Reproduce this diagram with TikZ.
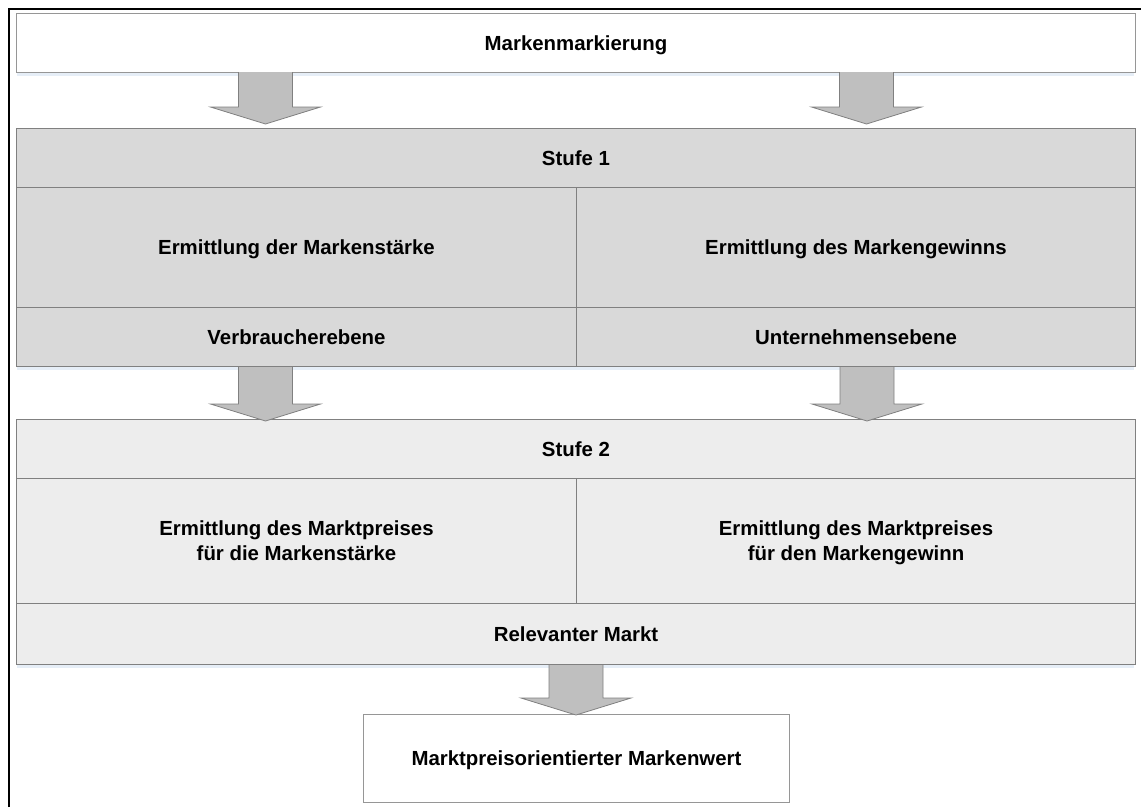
\documentclass[tikz,border=0pt]{standalone}
\usepackage{fontspec}
\setmainfont{Liberation Sans}

\definecolor{edgegray}{RGB}{128,128,128}
\definecolor{lightedge}{RGB}{150,150,150}
\definecolor{levelone}{RGB}{217,217,217}
\definecolor{leveltwo}{RGB}{237,237,237}
\definecolor{arrowfill}{RGB}{191,191,191}
\definecolor{haze}{RGB}{214,226,242}

% line strut: keeps the cap height of every text line centred in its cell
\newcommand\cellline{\rule[-5.2pt]{0pt}{25pt}}

\tikzset{
  cell/.style={draw=edgegray, line width=1pt, rectangle, anchor=north west,
    inner sep=0pt, align=center,
    font=\fontsize{20.4}{25}\selectfont\bfseries},
  whitecell/.style={cell, draw=lightedge, fill=white},
  onecell/.style={cell, fill=levelone},
  twocell/.style={cell, fill=leveltwo},
  hazeline/.style={haze, line width=3pt, opacity=0.6},
  blockarrow/.style={draw=edgegray, fill=arrowfill, line width=0.8pt, line join=miter},
  % down-pointing block arrow; the argument is the length of its shaft
  pics/downarrow/.style={code={
    \draw[blockarrow] (-27,0) -- (-27,#1) -- (-55,#1) -- (0,#1+17) -- (55,#1)
      -- (27,#1) -- (27,0);
  }}
}

\begin{document}
\begin{tikzpicture}[x=1pt, y=-1pt]
\useasboundingbox (0,0) rectangle (1141,807);

% outer frame
\draw[black, line width=2pt] (9,807) -- (9,9) -- (1141,9);

% soft haze under the box edges
\draw[hazeline] (17,74) -- (1134,74);
\draw[hazeline] (17,368) -- (1134,368);
\draw[hazeline] (17,666) -- (1134,666);

% top box
\node[whitecell, minimum width=1119pt, minimum height=59pt] (mark) at (16,13) {\cellline Markenmarkierung};

% level 1
\node[onecell, minimum width=1119pt, minimum height=59pt] (s1) at (16,128) {\cellline Stufe 1};
\node[onecell, minimum width=560pt, minimum height=120pt] (s1l) at (16,187) {\cellline Ermittlung der Markenstärke};
\node[onecell, minimum width=559pt, minimum height=120pt] (s1r) at (576,187) {\cellline Ermittlung des Markengewinns};
\node[onecell, minimum width=560pt, minimum height=59pt] (s1lb) at (16,307) {\cellline Verbraucherebene};
\node[onecell, minimum width=559pt, minimum height=59pt] (s1rb) at (576,307) {\cellline Unternehmensebene};

% level 2
\node[twocell, minimum width=1119pt, minimum height=59pt] (s2) at (16,419) {\cellline Stufe 2};
\node[twocell, minimum width=560pt, minimum height=125pt] (s2l) at (16,478)
  {\cellline Ermittlung des Marktpreises\\\cellline für die Markenstärke};
\node[twocell, minimum width=559pt, minimum height=125pt] (s2r) at (576,478)
  {\cellline Ermittlung des Marktpreises\\\cellline für den Markengewinn};
\node[twocell, minimum width=1119pt, minimum height=61pt] (s2b) at (16,603) {\cellline Relevanter Markt};

% result
\node[whitecell, minimum width=426pt, minimum height=88pt] (value) at (363,714) {\cellline Marktpreisorientierter Markenwert};

% block arrows between the boxes
\pic at ([xshift=-310.5pt, yshift=1pt]mark.south) {downarrow=35};
\pic at ([xshift=290.5pt, yshift=1pt]mark.south) {downarrow=35};
\pic at ([xshift=-31pt]s1lb.south) {downarrow=37};
\pic at ([xshift=11pt]s1rb.south) {downarrow=37};
\pic at (s2b.south) {downarrow=33};
\end{tikzpicture}
\end{document}
